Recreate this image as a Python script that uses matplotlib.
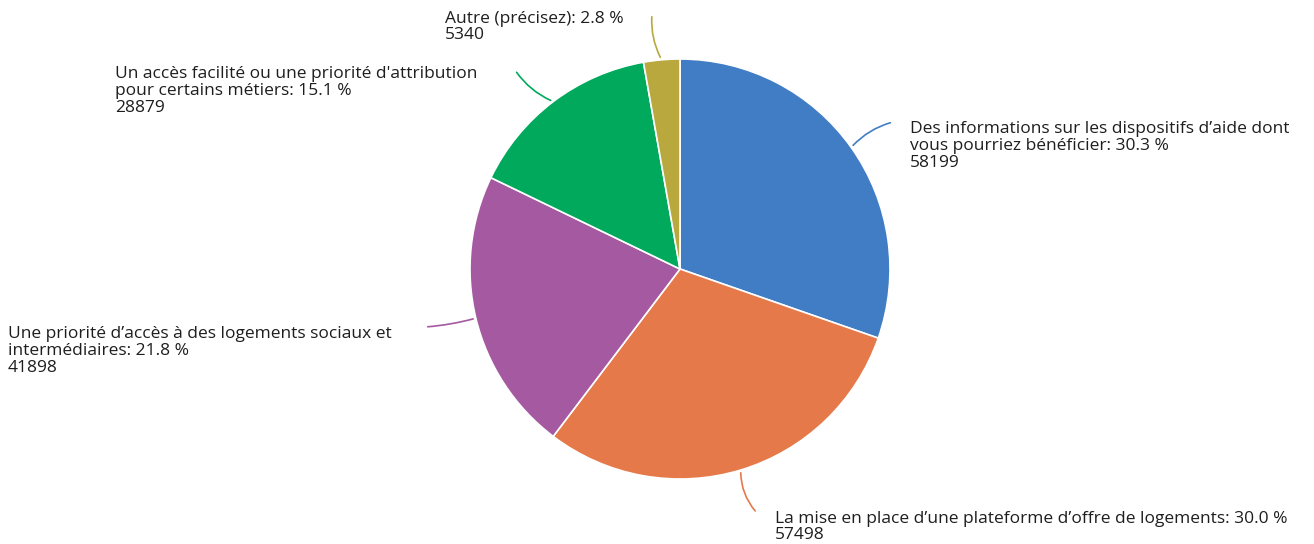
import numpy as np
import matplotlib
matplotlib.use("Agg")
import matplotlib.pyplot as plt

labels = [
    "Des informations sur les dispositifs d\u2019aide dont\nvous pourriez bénéficier",
    "La mise en place d\u2019une plateforme d\u2019offre de logements",
    "Une priorité d\u2019accès à des logements sociaux et\nintermédiaires",
    "Un accès facilité ou une priorité d'attribution\npour certains métiers",
    "Autre (précisez)",
]
counts = [58199, 57498, 41898, 28879, 5340]
colors = ["#417DC4", "#E5794A", "#A459A1", "#00A95C", "#B8A83E"]

# label text anchor (pixels from top-left) and leader end point
text_pos = [(910, 146), (775, 527), (8, 351), (115, 91), (445, 27)]
line_end = [(893, 122), (757, 513), (425, 327), (515, 70), (652, 14)]
rads = [0.15, -0.2, 0.05, 0.15, 0.15]

W, H = 1314, 544
cx, cy, R = 680, 269, 210

plt.rcParams['font.family'] = ['Open Sans', 'DejaVu Sans']
fig = plt.figure(figsize=(W / 100, H / 100), dpi=100)
ax = fig.add_axes([0, 0, 1, 1])
ax.axis("off")

wedges, _ = ax.pie(counts, colors=colors, startangle=90, counterclock=False,
                   radius=1, wedgeprops=dict(edgecolor="white", linewidth=1.2))
ax.set_xlim(-cx / R, (W - cx) / R)
ax.set_ylim(-(H - cy) / R, cy / R)
ax.set_aspect("auto")

total = sum(counts)


def to_data(p):
    return ((p[0] - cx) / R, (cy - p[1]) / R)


for w, lab, n, c, tp, le, rad in zip(wedges, labels, counts, colors,
                                    text_pos, line_end, rads):
    ang = np.deg2rad((w.theta1 + w.theta2) / 2)
    start = (np.cos(ang), np.sin(ang))
    ax.annotate("", xy=start, xytext=to_data(le),
                arrowprops=dict(arrowstyle="-", color=c, lw=1.2,
                                connectionstyle=f"arc3,rad={rad}"))
    pct = 100 * n / total
    ax.text(*to_data(tp), f"{lab}: {pct:.1f} %\n{n}", ha="left", va="center",
            fontsize=12.5, color="#1e1e1e", linespacing=1.06)

fig.savefig("out.png", dpi=100)
